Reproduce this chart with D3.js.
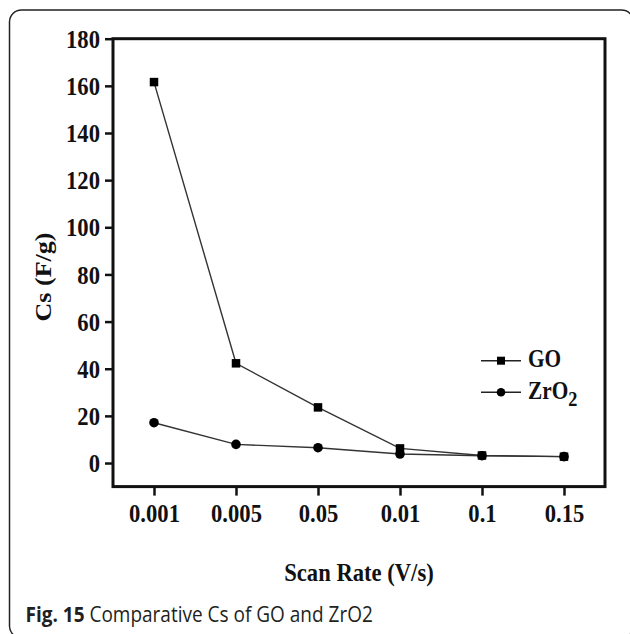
<!DOCTYPE html>
<html>
<head>
<meta charset="utf-8">
<script src="https://cdn.jsdelivr.net/npm/d3@7"></script>
<style>
  html, body { margin: 0; padding: 0; background: #fff; }
  svg { display: block; }
  .serif { font-family: "Liberation Serif", "Times New Roman", serif; font-weight: bold; fill: #111; }
</style>
</head>
<body>
<svg id="chart" width="630" height="634"></svg>
<script>
// Scan rates (V/s), shown as evenly spaced categories
const scanRates = ["0.001", "0.005", "0.05", "0.01", "0.1", "0.15"];
// Specific capacitance Cs (F/g)
const goValues = [161.6, 42.3, 23.6, 6.2, 3.2, 2.7];
const zro2Values = [17.1, 7.9, 6.5, 3.8, 3.1, 2.7];
const yTicks = [0, 20, 40, 60, 80, 100, 120, 140, 160, 180];

const squeeze = 0.87; // horizontal compression of the typeset labels

const svg = d3.select("#chart");

// Outer frame of the figure panel (right and bottom sides run past the edge)
svg.append("rect")
  .attr("x", 9.5).attr("y", 10)
  .attr("width", 624).attr("height", 628)
  .attr("rx", 12).attr("ry", 12)
  .attr("fill", "none").attr("stroke", "#222").attr("stroke-width", 1.5);

const plot = { left: 113, right: 605, top: 38.7, bottom: 486.6 };

const x = d3.scalePoint().domain(scanRates).range([plot.left, plot.right]).padding(0.5);
const y = d3.scaleLinear().domain([-10, 180]).range([plot.bottom, plot.top]);

// Y axis
const yAxis = svg.append("g")
  .attr("transform", `translate(${plot.left},0)`)
  .call(d3.axisLeft(y).tickValues(yTicks).tickSize(8).tickSizeOuter(0).tickPadding(7));
yAxis.select(".domain").remove();
yAxis.selectAll(".tick line").attr("stroke", "#111").attr("stroke-width", 2.5);
yAxis.selectAll(".tick text")
  .attr("class", "serif")
  .attr("font-size", 26)
  .attr("dy", "0.33em")
  .attr("transform", `scale(${squeeze},1)`);

// X axis
const xAxis = svg.append("g")
  .attr("transform", `translate(0,${plot.bottom})`)
  .call(d3.axisBottom(x).tickSize(9).tickSizeOuter(0).tickPadding(7.5));
xAxis.select(".domain").remove();
xAxis.selectAll(".tick line").attr("stroke", "#111").attr("stroke-width", 2.5);
xAxis.selectAll(".tick text")
  .attr("class", "serif")
  .attr("font-size", 26)
  .attr("transform", `scale(${squeeze},1)`);

// Plot frame
svg.append("rect")
  .attr("x", plot.left).attr("y", plot.top)
  .attr("width", plot.right - plot.left).attr("height", plot.bottom - plot.top)
  .attr("fill", "none").attr("stroke", "#111").attr("stroke-width", 3);

// Series
const line = d3.line().x((d, i) => x(scanRates[i])).y(d => y(d));

svg.append("path").datum(zro2Values)
  .attr("d", line).attr("fill", "none").attr("stroke", "#333").attr("stroke-width", 1.4);
svg.append("path").datum(goValues)
  .attr("d", line).attr("fill", "none").attr("stroke", "#333").attr("stroke-width", 1.4);

svg.append("g").selectAll("circle").data(zro2Values).join("circle")
  .attr("cx", (d, i) => x(scanRates[i])).attr("cy", d => y(d))
  .attr("r", 4.8).attr("fill", "#000");

const sq = 8.5;
svg.append("g").selectAll("rect").data(goValues).join("rect")
  .attr("x", (d, i) => x(scanRates[i]) - sq / 2).attr("y", d => y(d) - sq / 2)
  .attr("width", sq).attr("height", sq).attr("fill", "#000");

// Legend
const legend = svg.append("g").attr("transform", "translate(481,360.7)");
legend.append("line").attr("x1", 0).attr("x2", 40).attr("y1", 0).attr("y2", 0)
  .attr("stroke", "#222").attr("stroke-width", 1.4);
legend.append("rect").attr("x", 20 - 4).attr("y", -4).attr("width", 8).attr("height", 8).attr("fill", "#000");
legend.append("text").attr("class", "serif").attr("font-size", 24.5)
  .attr("transform", `translate(47,6.5) scale(${squeeze},1)`).text("GO");

const legend2 = svg.append("g").attr("transform", "translate(481,392.3)");
legend2.append("line").attr("x1", 0).attr("x2", 40).attr("y1", 0).attr("y2", 0)
  .attr("stroke", "#222").attr("stroke-width", 1.4);
legend2.append("circle").attr("cx", 20).attr("cy", 0).attr("r", 4.3).attr("fill", "#000");
const zt = legend2.append("text").attr("class", "serif").attr("font-size", 24.5)
  .attr("transform", `translate(47,6.5) scale(${squeeze},1)`);
zt.append("tspan").text("ZrO");
zt.append("tspan").attr("font-size", 21).attr("dy", 7).text("2");

// Axis titles
svg.append("text").attr("class", "serif").attr("font-size", 26)
  .attr("text-anchor", "middle")
  .attr("transform", `translate(${(plot.left + plot.right) / 2},580.5) scale(${squeeze},1)`)
  .text("Scan Rate (V/s)");

svg.append("text").attr("class", "serif").attr("font-size", 26)
  .attr("text-anchor", "middle")
  .attr("transform", `translate(51,277) scale(${squeeze},1) rotate(-90)`)
  .text("Cs (F/g)");

// Figure caption
const cap = svg.append("text")
  .attr("transform", "translate(25.5,621.5) scale(0.905,1)")
  .attr("font-family", "'Open Sans', 'Noto Sans', sans-serif")
  .attr("font-size", 21)
  .attr("fill", "#231f20");
cap.append("tspan").attr("font-weight", "bold").text("Fig. 15");
cap.append("tspan").attr("font-weight", "normal").text(" Comparative Cs of GO and ZrO2");
</script>
</body>
</html>
